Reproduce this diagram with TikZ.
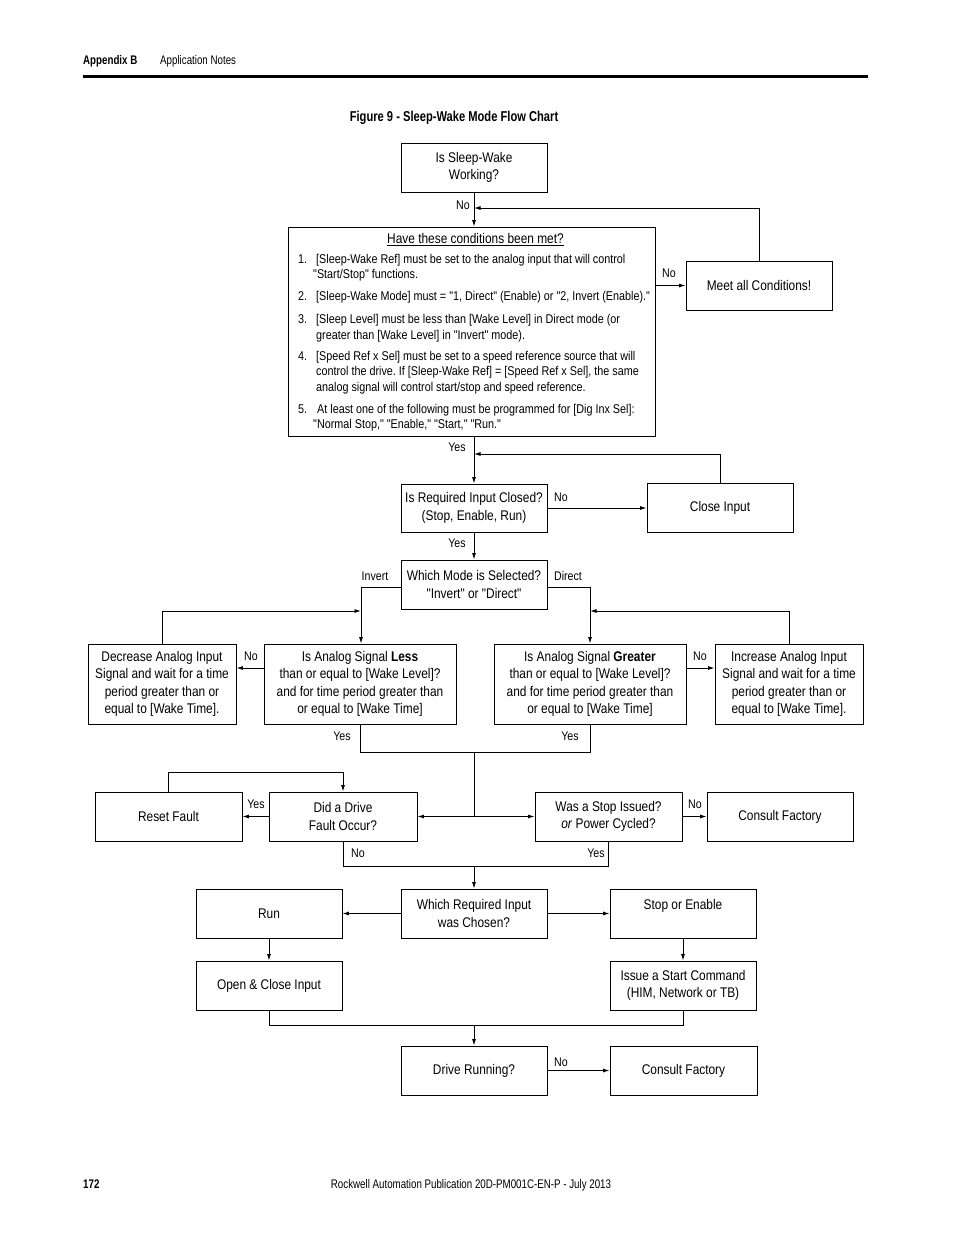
\documentclass[tikz,border=0pt]{standalone}
\usepackage{fontspec}
\newfontfamily\mf{Liberation Sans}[FakeStretch=0.85]
\newfontfamily\hdfont{Liberation Sans}[FakeStretch=0.78]
\usetikzlibrary{arrows.meta}
\frenchspacing
\begin{document}
\begin{tikzpicture}[x=1pt,y=-1pt,
  box/.style={draw, line width=0.9pt, inner sep=0pt, align=center, font=\mf\fontsize{14}{17.5}\selectfont},
  lbl/.style={font=\mf\fontsize{12.5}{14}\selectfont, inner sep=0pt},
  ln/.style={line width=0.9pt},
  arr/.style={line width=0.9pt, -{Latex[length=6.5pt,width=4pt]}},
  ctext/.style={font=\mf\fontsize{12.7}{14}\selectfont, anchor=base west, inner sep=0pt},
  hd/.style={font=\hdfont\fontsize{12.5}{14}\selectfont, inner sep=0pt, anchor=base west}
]
\useasboundingbox (0,0) rectangle (954,1235);
% header and footer
\node[hd] (apx) at (83,64) {\bfseries Appendix B};
\node[hd] (apn) at (160,64) {Application Notes};
\draw[line width=3pt] (83,76) -- (868,76);
\node[font=\hdfont\bfseries\fontsize{14.3}{16}\selectfont, inner sep=0pt] (title) at (454,117.5) {Figure 9 - Sleep-Wake Mode Flow Chart};
\node[hd] (pg) at (83,1188) {\bfseries 172};
\node[font=\hdfont\fontsize{12.5}{14}\selectfont, inner sep=0pt, anchor=base] (pub) at (471,1188) {Rockwell Automation Publication 20D-PM001C-EN-P - July 2013};

% boxes
\node[box, minimum width=146pt, minimum height=49pt] (sw) at (474,167.5) {Is Sleep-Wake\\Working?};
\node[box, minimum width=367pt, minimum height=209pt] (cond) at (471.5,331.5) {};
\node[box, minimum width=146pt, minimum height=49pt] (meet) at (759,285.5) {Meet all Conditions!};
\node[box, minimum width=146pt, minimum height=48pt] (req) at (474,508) {Is Required Input Closed?\\(Stop, Enable, Run)};
\node[box, minimum width=146pt, minimum height=49pt] (close) at (720,507.5) {Close Input};
\node[box, minimum width=146pt, minimum height=49pt] (mode) at (474,584.5) {Which Mode is Selected?\\"Invert" or "Direct"};
\node[box, minimum width=148pt, minimum height=80pt] (dec) at (162,684) {Decrease Analog Input\\Signal and wait for a time\\period greater than or\\equal to [Wake Time].};
\node[box, minimum width=192pt, minimum height=80pt] (less) at (360,684) {Is Analog Signal \textbf{Less}\\than or equal to [Wake Level]?\\and for time period greater than\\or equal to [Wake Time]};
\node[box, minimum width=192pt, minimum height=80pt] (grt) at (590,684) {Is Analog Signal \textbf{Greater}\\than or equal to [Wake Level]?\\and for time period greater than\\or equal to [Wake Time]};
\node[box, minimum width=148pt, minimum height=80pt] (inc) at (789,684) {Increase Analog Input\\Signal and wait for a time\\period greater than or\\equal to [Wake Time].};
\node[box, minimum width=147pt, minimum height=49pt] (reset) at (168.5,816.5) {Reset Fault};
\node[box, minimum width=148pt, minimum height=49pt] (did) at (343,816.5) {Did a Drive\\Fault Occur?};
\node[box, minimum width=147pt, minimum height=49pt] (was) at (608.5,816.5) {Was a Stop Issued?\\\textit{or} Power Cycled?};
\node[box, minimum width=146pt, minimum height=49pt] (cf1) at (780,816.5) {Consult Factory};
\node[box, minimum width=146pt, minimum height=49pt] (wrc) at (474,913.5) {Which Required Input\\was Chosen?};
\node[box, minimum width=146pt, minimum height=49pt] (run) at (269,913.5) {Run};
\node[box, minimum width=146pt, minimum height=49pt] (se) at (683,913.5) {Stop or Enable\\\mbox{}};
\node[box, minimum width=146pt, minimum height=49pt] (oc) at (269,985.5) {Open \& Close Input};
\node[box, minimum width=146pt, minimum height=49pt] (isc) at (683,985.5) {Issue a Start Command\\(HIM, Network or TB)};
\node[box, minimum width=146pt, minimum height=49pt] (dr) at (474,1070.5) {Drive Running?};
\node[box, minimum width=147pt, minimum height=49pt] (cf2) at (683.5,1070.5) {Consult Factory};

% conditions text
\node[font=\mf\fontsize{14}{16}\selectfont, inner sep=0pt] (ctitle) at (475.5,239.5) {\underline{Have these conditions been met?}};
\node[ctext] (n1) at (298,263.5) {1.};
\node[ctext] (c1a) at (316,263.5) {[Sleep-Wake Ref] must be set to the analog input that will control};
\node[ctext] (c1b) at (313,278) {"Start/Stop" functions.};
\node[ctext] (n2) at (298,300.5) {2.};
\node[ctext] (c2a) at (316,300.5) {[Sleep-Wake Mode] must = "1, Direct" (Enable) or "2, Invert (Enable)."};
\node[ctext] (n3) at (298,323.5) {3.};
\node[ctext] (c3a) at (316,323.5) {[Sleep Level] must be less than [Wake Level] in Direct mode (or};
\node[ctext] (c3b) at (316,339.5) {greater than [Wake Level] in "Invert" mode).};
\node[ctext] (n4) at (298,360.5) {4.};
\node[ctext] (c4a) at (316,360.5) {[Speed Ref x Sel] must be set to a speed reference source that will};
\node[ctext] (c4b) at (316,375.5) {control the drive. If [Sleep-Wake Ref] = [Speed Ref x Sel], the same};
\node[ctext] (c4c) at (316,391.5) {analog signal will control start/stop and speed reference.};
\node[ctext] (n5) at (298,413.5) {5.};
\node[ctext] (c5a) at (317,413.5) {At least one of the following must be programmed for [Dig Inx Sel]:};
\node[ctext] (c5b) at (313,428.5) {"Normal Stop," "Enable," "Start," "Run."};

% coordinates
\coordinate (j1) at (474,208);
\coordinate (j2) at (474,454);
\coordinate (inv) at (361,587);
\coordinate (dir) at (590,587);
\coordinate (j3) at (361,611);
\coordinate (j4) at (590,611);
\coordinate (m1) at (474,752);
\coordinate (m2) at (474,816.5);
\coordinate (j5) at (343,772);
\coordinate (m3) at (474,866);
\coordinate (m4) at (474,1025);

% connectors
\draw[arr] (sw.south) -- (sw.south |- cond.north);
\draw[arr] (cond.east |- meet.west) -- (meet.west);
\draw[arr] (meet.north) |- (j1);
\draw[arr] (sw.south |- cond.south) -- (req.north);
\draw[arr] (req.east) -- (close.west |- req.east);
\draw[arr] (close.north) |- (j2);
\draw[arr] (req.south) -- (mode.north);
\draw[arr] (mode.west |- inv) -- (inv) -- (inv |- less.north);
\draw[arr] (dec.north) |- (j3);
\draw[arr] (mode.east |- dir) -- (dir) -- (dir |- grt.north);
\draw[arr] (inc.north) |- (j4);
\draw[arr] (less.west |- 0,668) -- (dec.east |- 0,668);
\draw[arr] (grt.east |- 0,668) -- (inc.west |- 0,668);
\draw[ln] (less.south) |- (m1) -| (grt.south);
\draw[ln] (m1) -- (m2);
\draw[arr] (m2) -- (did.east);
\draw[arr] (m2) -- (was.west);
\draw[arr] (did.west) -- (reset.east);
\draw[arr] (reset.north) |- (j5) -- (did.north);
\draw[arr] (was.east) -- (cf1.west);
\draw[ln] (did.south) |- (m3) -| (was.south);
\draw[arr] (m3) -- (wrc.north);
\draw[arr] (wrc.west) -- (run.east);
\draw[arr] (wrc.east) -- (se.west);
\draw[arr] (run.south) -- (oc.north);
\draw[arr] (se.south) -- (isc.north);
\draw[ln] (oc.south) |- (m4) -| (isc.south);
\draw[arr] (m4) -- (dr.north);
\draw[arr] (dr.east) -- (cf2.west);

% labels
\node[lbl] (l1) at (463,205.5) {No};
\node[lbl] (l2) at (669,273.5) {No};
\node[lbl] (l3) at (457,447) {Yes};
\node[lbl] (l4) at (561,497.5) {No};
\node[lbl] (l5) at (457,543.5) {Yes};
\node[lbl] (l6) at (375,576.5) {Invert};
\node[lbl] (l7) at (568,576.5) {Direct};
\node[lbl] (l8) at (251,656) {No};
\node[lbl] (l9) at (700,656) {No};
\node[lbl] (l10) at (342,736) {Yes};
\node[lbl] (l11) at (570,736) {Yes};
\node[lbl] (l12) at (256,804) {Yes};
\node[lbl] (l13) at (695,804) {No};
\node[lbl] (l14) at (358,853.5) {No};
\node[lbl] (l15) at (596,853.5) {Yes};
\node[lbl] (l16) at (561,1062) {No};
\end{tikzpicture}
\end{document}
